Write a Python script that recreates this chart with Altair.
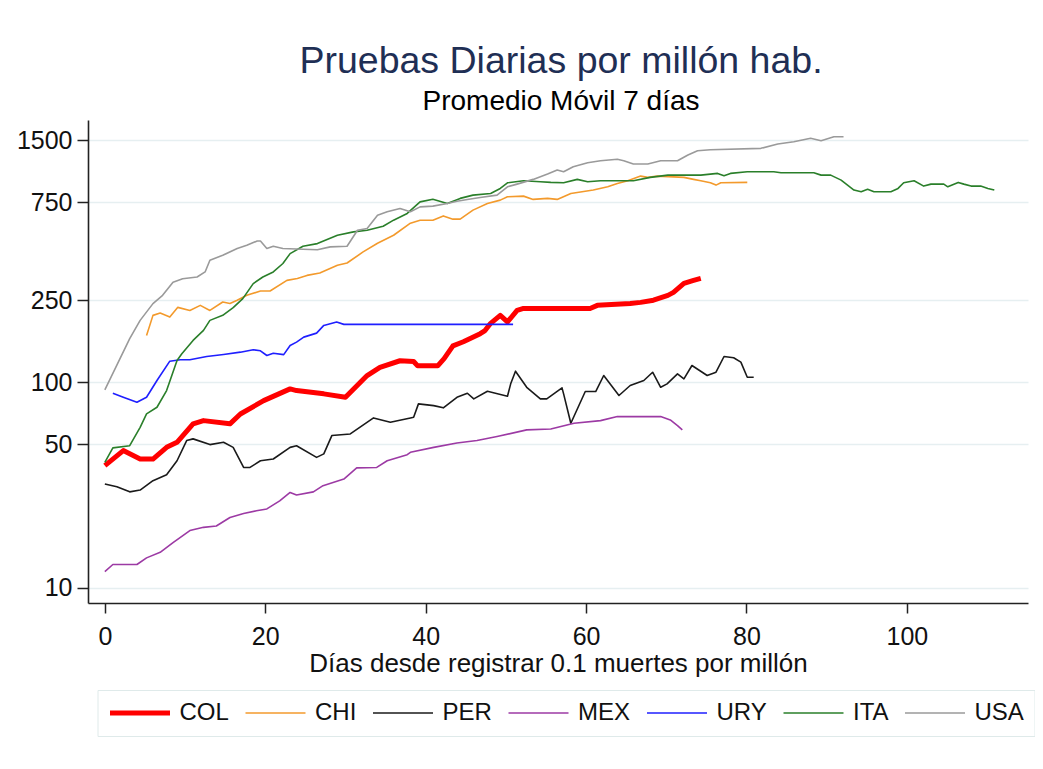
import altair as alt
import pandas as pd

FONT = "Liberation Sans"

countries = ["COL", "CHI", "PER", "MEX", "URY", "ITA", "USA"]
colors = ["#ff0000", "#f39a2c", "#1a1a1a", "#9c3aa4", "#1f1fff", "#2a7f2a", "#9a9a9a"]
widths = [5, 1.6, 1.6, 1.6, 1.6, 1.6, 1.6]

col_days = [0, 2.3, 4.4, 6, 7.7, 9, 11, 12.3, 15.6, 16.9, 19.8, 23.1, 23.9, 27.3, 30, 32.7, 34.3,
            36.8, 38.5, 39, 41.5, 42.3, 43.4, 44.7, 46.8, 47.4, 48.1, 49.3, 50.2, 51.4, 52.2, 60.5,
            61.4, 65.5, 66.8, 68.4, 70.2, 70.9, 72.2, 73.4, 74.3]
col_vals = [39.3, 46.5, 42.3, 42.3, 48.2, 51, 62.7, 65, 62.7, 70, 81.3, 92.7, 91, 87.7, 84.4, 107.6, 118,
            127, 126, 120, 120, 130, 150, 157, 172, 178, 193, 211, 196, 223, 228, 228,
            236, 241, 244, 250, 264, 273, 302, 312, 319]

chi_days = [5.2, 6.0, 6.9, 8.1, 9.1, 10.6, 11.9, 13.1, 14.7, 15.6, 16.5, 17.7, 19.4, 20.6, 22.7,
            24.0, 25.2, 26.8, 29.0, 30.2, 32.2, 34.0, 36.0, 38.1, 39.3, 40.9, 42.2, 43.4, 44.3, 45.9,
            47.7, 49.3, 50.2, 52.2, 53.4, 55.2, 56.4, 58.1, 60.9, 62.7, 63.9, 65.2, 66.8, 67.7, 68.9,
            72.2, 73.4, 74.3, 75.5, 76.2, 76.8, 80.1]
chi_vals = [168.6, 211, 216.5, 207, 230.8, 223, 236, 223, 245, 241, 250, 264, 277, 277, 312,
            319, 330, 339, 370, 379, 429, 473, 517, 592, 612, 612, 642, 619, 619, 685,
            738, 766, 795, 801, 772, 781, 772, 825, 857, 889, 923, 951, 1002, 988, 1002,
            988, 966, 951, 930, 906, 930, 934]

per_days = [0, 1.5, 3.1, 4.4, 6.0, 7.7, 9.0, 10.2, 11.0, 13.1, 14.8, 16.0, 17.3, 18.1, 19.4,
            21.0, 23.1, 23.9, 26.4, 27.3, 28.3, 30.6, 33.5, 35.6, 38.1, 38.5, 39.1, 41.0, 42.2, 43.9,
            45.2, 46.0, 47.7, 50.2, 50.6, 51.2, 52.6, 54.3, 55.1, 57.0, 57.2, 58.1, 59.9, 61.2, 62.2,
            64.1, 65.5, 67.2, 68.3, 69.3, 70.1, 71.4, 72.2, 73.2, 75.1, 76.2, 77.2, 78.4, 79.3, 80.1,
            80.9]
per_vals = [32.0, 31.0, 29.3, 29.9, 33.2, 35.5, 41.5, 52.0, 53.0, 49.7, 51.0, 48.2, 38.5, 38.5, 41.5,
            42.3, 48.2, 49.1, 43.1, 44.8, 55.0, 56.0, 67.0, 63.8, 67.0, 67.5, 78.4, 76.9, 75.0, 84.4,
            88.3, 82.9, 90.3, 85.4, 98.1, 113, 94.4, 82.9, 82.9, 93.8, 87.7, 63.1, 90, 90, 107.7,
            86.1, 96.3, 101.8, 111.7, 94.4, 98.1, 109.7, 103.7, 120.4, 107.7, 111.7, 133.2, 131.3, 125, 105.6,
            105.6]

mex_days = [0, 1.0, 4.0, 5.2, 6.9, 8.5, 10.6, 12.3, 13.9, 15.6, 17.3, 18.9, 20.2, 21.8, 23.1,
            23.9, 26.0, 27.2, 29.8, 31.4, 33.9, 35.2, 37.7, 38.1, 41.0, 43.9, 46.4, 48.9, 52.6, 55.6,
            58.5, 61.8, 63.9, 69.3, 70.5, 71.4, 72.0]
mex_vals = [12.0, 13.0, 13.0, 14.0, 14.9, 16.6, 19.0, 19.7, 20.0, 22.0, 23.0, 23.7, 24.2, 26.5, 29.1,
            28.3, 29.3, 31.4, 33.8, 38.3, 38.5, 41.5, 44.4, 45.6, 48.2, 50.6, 52.0, 54.4, 58.6, 59.2,
            63.1, 65.0, 68.0, 68.0, 65.5, 61.5, 58.6]

ury_days = [1.0, 2.3, 4.0, 5.2, 6.5, 8.1, 9.4, 10.6, 12.7, 14.8, 16.9, 18.5, 19.4, 20.2, 21.0,
            22.3, 23.1, 23.9, 24.8, 26.4, 27.3, 28.9, 29.8, 50.9]
ury_vals = [88.3, 84.4, 79.8, 84.4, 101.8, 126.4, 128.4, 128.4, 133.2, 136.2, 139.8, 143.6, 142, 134.7, 138,
            136, 150.7, 156.4, 165.4, 173, 188.6, 195.7, 190.8, 190.8]

ita_days = [0, 1.0, 3.1, 4.4, 5.2, 6.5, 7.7, 9.0, 9.6, 11.0, 12.3, 13.1, 14.7, 16.0, 17.2,
            18.5, 19.7, 21.0, 22.2, 23.1, 24.7, 26.5, 29.0, 31.0, 32.7, 34.7, 36.0, 37.7, 39.3, 40.9,
            42.7, 44.3, 45.9, 48.1, 49.3, 50.2, 52.2, 54.3, 55.6, 57.2, 58.9, 60.2, 61.8, 65.9, 68.0,
            70.2, 74.3, 76.4, 77.2, 78.0, 80.1, 83.4, 84.3, 88.4, 89.3, 90.5, 91.8, 92.6, 93.4, 94.3,
            95.1, 95.9, 98.0, 98.9, 99.6, 100.9, 102.1, 103.0, 104.6, 105.1, 106.4, 107.1, 108.0, 109.2, 110.1,
            110.9]
ita_vals = [40.7, 47.9, 49.1, 60.3, 70.1, 75.5, 91, 127.4, 137.4, 159.4, 178.3, 199.5, 211, 230, 254.4,
            301, 324, 343, 377, 421, 457, 471, 517, 537, 547, 572, 612, 660, 751, 774,
            738, 781, 810, 825, 873, 930, 951, 940, 934, 930, 966, 940, 951, 951, 988,
            1013, 1013, 1033, 1006, 1033, 1052, 1052, 1040, 1040, 1013, 1013, 958, 906, 857, 841,
            864, 841, 841, 873, 930, 951, 896, 916, 916, 889, 934, 916, 896, 896, 873,
            857]

usa_days = [0, 3.1, 4.4, 6.0, 7.2, 8.5, 9.7, 11.5, 12.5, 13.1, 14.7, 16.5, 17.7, 19.0, 19.4,
            20.2, 21.0, 22.2, 24.7, 26.5, 28.1, 30.2, 31.5, 32.7, 34.0, 35.2, 36.8, 38.1, 39.3, 40.9,
            42.7, 43.9, 45.2, 46.8, 48.9, 50.2, 51.4, 53.4, 55.2, 56.4, 57.2, 58.4, 60.2, 61.8, 63.9,
            64.7, 65.9, 67.7, 69.3, 71.4, 72.7, 73.9, 75.5, 81.8, 83.9, 85.9, 88.0, 89.3, 90.9, 92.1]
usa_vals = [91.7, 162.5, 199.5, 240.6, 264, 306, 318, 324, 343, 391, 413, 446, 462, 485, 485,
            446, 457, 446, 442, 440, 454, 457, 547, 558, 647, 672, 698, 672, 710, 716,
            738, 757, 772, 789, 810, 889, 916, 966, 1025, 1072, 1052, 1113, 1164, 1190, 1209,
            1190, 1147, 1147, 1190, 1190, 1269, 1331, 1345, 1367, 1435, 1472, 1529, 1489, 1557, 1557]

x_ticks = [0, 20, 40, 60, 80, 100]
y_ticks = [10, 50, 100, 250, 750, 1500]

series = {
    "COL": (col_days, col_vals),
    "CHI": (chi_days, chi_vals),
    "PER": (per_days, per_vals),
    "MEX": (mex_days, mex_vals),
    "URY": (ury_days, ury_vals),
    "ITA": (ita_days, ita_vals),
    "USA": (usa_days, usa_vals),
}

rows = []
for c in countries:
    d, v = series[c]
    for x, y in zip(d, v):
        rows.append({"country": c, "day": x, "value": y})
df = pd.DataFrame(rows)

legend_props = dict(
    title=None,
    orient="none",
    legendX=9.5,
    legendY=570,
    direction="horizontal",
    columns=7,
    symbolType="stroke",
    symbolSize=3600,
    clipHeight=26,
    labelFont=FONT,
    labelFontSize=24,
    labelColor="#111111",
    labelOffset=7,
    columnPadding=13.5,
    gridAlign="each",
    padding=10,
    strokeColor="#dfeaea",
)

chart = alt.Chart(df).mark_line(strokeJoin="round").encode(
    x=alt.X(
        "day:Q",
        scale=alt.Scale(domain=[-2.1, 115.1], nice=False, zero=False),
        axis=alt.Axis(
            values=x_ticks,
            title="Días desde registrar 0.1 muertes por millón",
            grid=False,
            tickSize=10,
            labelPadding=11,
            labelFontSize=25,
            labelFont=FONT,
            labelColor="#111111",
            labelFlush=False,
            titleFont=FONT,
            titleFontSize=26,
            titleFontWeight="normal",
            titleColor="#111111",
            titleY=68,
            titleBaseline="alphabetic",
            domainColor="#222222",
            domainWidth=1.6,
            tickColor="#222222",
            tickWidth=1.5,
        ),
    ),
    y=alt.Y(
        "value:Q",
        scale=alt.Scale(type="log", domain=[8.45, 1877], nice=False),
        axis=alt.Axis(
            values=y_ticks,
            format="d",
            title=None,
            tickSize=11,
            labelPadding=5,
            labelFontSize=25,
            labelFont=FONT,
            labelColor="#111111",
            grid=True,
            gridColor="#e6eff1",
            gridWidth=1.5,
            domainColor="#222222",
            domainWidth=1.6,
            tickColor="#222222",
            tickWidth=1.5,
        ),
    ),
    color=alt.Color(
        "country:N",
        scale=alt.Scale(domain=countries, range=colors),
        legend=alt.Legend(**legend_props),
    ),
    strokeWidth=alt.StrokeWidth(
        "country:N",
        scale=alt.Scale(type="ordinal", domain=countries, range=widths),
        legend=alt.Legend(**legend_props),
    ),
).properties(
    width=940,
    height=483,
    autosize=alt.AutoSizeParams(type="none"),
    padding={"left": 80, "top": 112, "right": 7, "bottom": 158},
    title=alt.TitleParams(
        text="Pruebas Diarias por millón hab.",
        subtitle="Promedio Móvil 7 días",
        anchor="middle",
        frame="group",
        font=FONT,
        fontSize=37.5,
        fontWeight="normal",
        color="#1f2f55",
        subtitleFont=FONT,
        subtitleFontSize=28,
        subtitleColor="#000000",
        subtitlePadding=8,
        offset=4,
        dx=3,
    ),
).configure_view(stroke="transparent")

chart.save("out.html", embed_options={"renderer": "svg", "actions": False})
